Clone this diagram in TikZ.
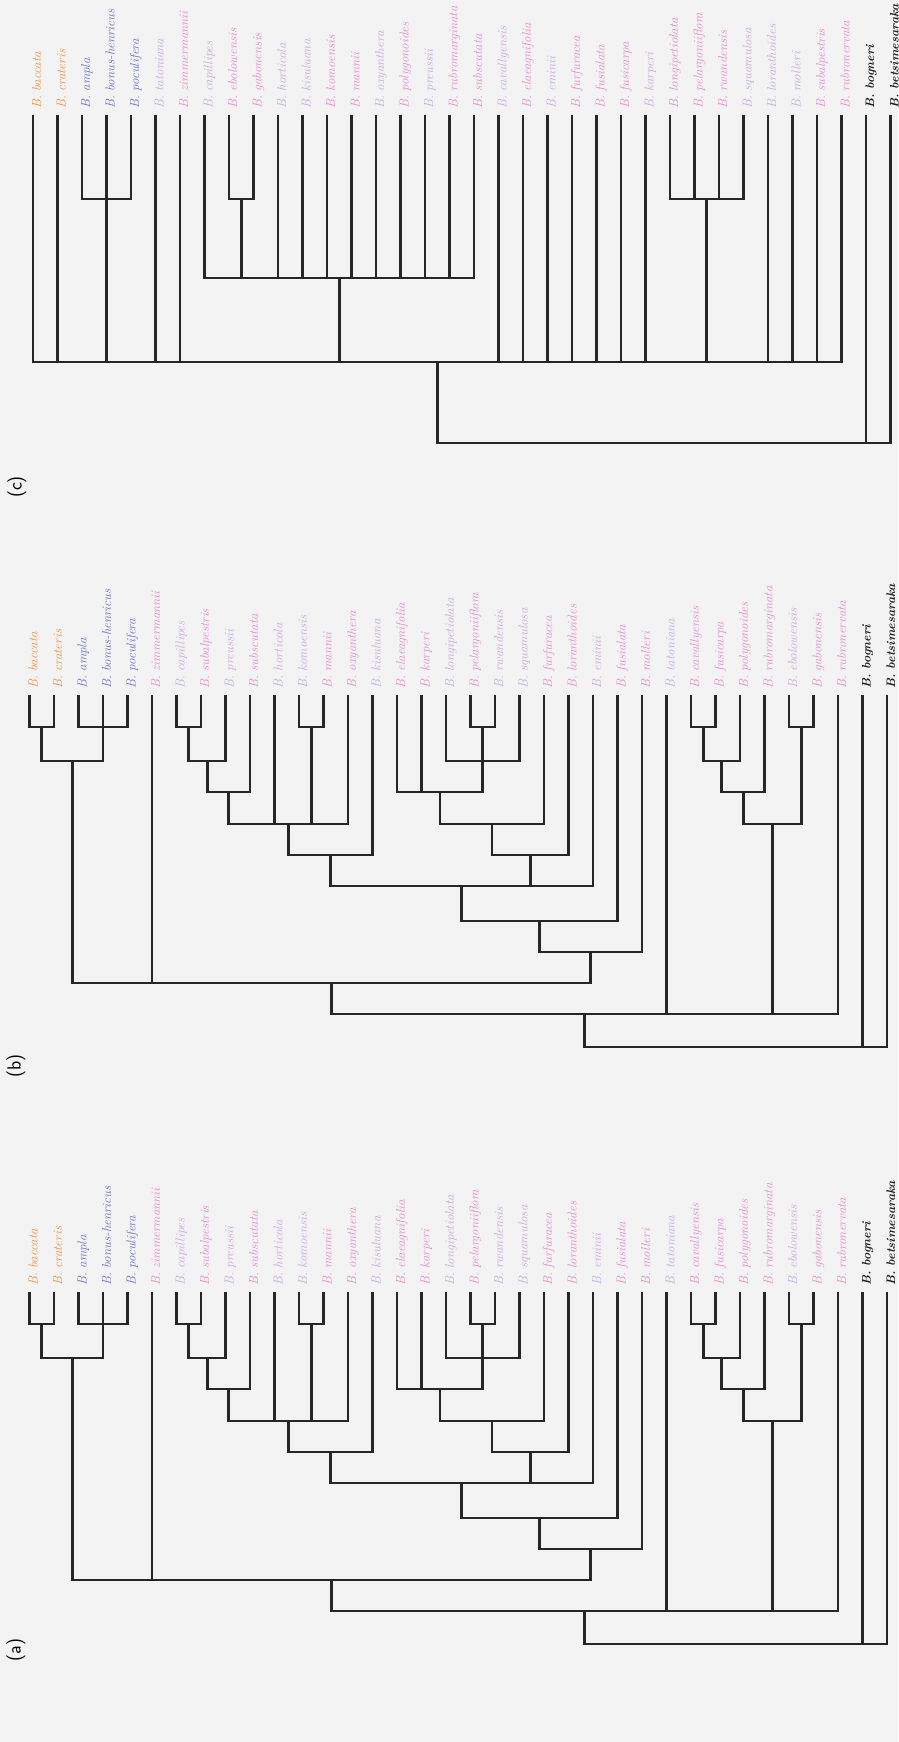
\documentclass[tikz,border=0pt]{standalone}
\usepackage{tikz}

\definecolor{orng}{RGB}{232,146,66}
\definecolor{blu}{RGB}{108,114,196}
\definecolor{pnk}{RGB}{228,138,204}
\definecolor{lil}{RGB}{196,170,222}
\definecolor{blk}{RGB}{30,30,30}
\definecolor{scan}{RGB}{243,243,243}

\tikzset{
  branch/.style={line width=2.8pt, draw=black!85},
  taxon/.style={rotate=90, anchor=base west, inner sep=0pt, font=\fontsize{13}{15}\selectfont\itshape},
  tx orng/.style={text=orng},
  tx blu/.style={text=blu},
  tx pnk/.style={text=pnk},
  tx lil/.style={text=lil},
  tx blk/.style={text=blk, font=\fontsize{12.3}{14}\selectfont\bfseries\itshape},
  panel/.style={rotate=90, inner sep=0pt, font=\fontsize{19}{22}\selectfont\sffamily}
}

\begin{document}
\begin{tikzpicture}[x=1pt, y=-1pt]
\fill[scan] (0,0) rectangle (898,1742);
\useasboundingbox (0,0) rectangle (898,1742);

% (c) -- top tree
\node[panel] (pc) at (17,487) {(c)};
\foreach \n/\c [count=\i from 0] in {baccata/orng, crateris/orng, ampla/blu, bonus-henricus/blu, poculifera/blu,
    tatoniana/lil, zimmermannii/pnk, capillipes/lil, ebolowensis/pnk, gabonensis/pnk, horticola/lil, kisuluana/lil,
    komoensis/pnk, mannii/pnk, oxyanthera/lil, polygonoides/pnk, preussii/lil, rubromarginata/pnk, subscutata/pnk,
    cavallyensis/lil, elaeagnifolia/pnk, eminii/lil, furfuracea/pnk, fusialata/pnk, fusicarpa/pnk, karperi/lil,
    longipetiolata/pnk, pelargoniiflora/pnk, rwandensis/pnk, squamulosa/lil, loranthoides/lil, molleri/lil,
    subalpestris/pnk, rubronervata/pnk, bogneri/blk, betsimesaraka/blk} {
  \coordinate (t\i) at ({33+24.5*\i},115);
  \node[taxon, tx \c] (l\i) at ({41+24.5*\i},109) {B. \n};
}
\coordinate (m1) at (106.5,199);
\coordinate (m2) at (241.25,199);
\coordinate (m3) at (339.25,278);
\coordinate (m4) at (706.75,199);
\coordinate (m5) at (437.25,362);
\coordinate (m6) at (663.9,443);
\foreach \up/\kids in {m1/{t2,t3,t4}, m2/{t8,t9}, m4/{t26,t27,t28,t29},
    m3/{t7,m2,t10,t11,t12,t13,t14,t15,t16,t17,t18},
    m5/{t0,t1,m1,t5,t6,m3,t19,t20,t21,t22,t23,t24,t25,m4,t30,t31,t32,t33},
    m6/{m5,t34,t35}}
  \foreach \k in \kids \draw[branch] (\k) |- (\up);

% (b) and (a) -- same tree, two bands
\foreach \p/\T/\Y in {b/695/1066, a/1292/1650} {
  \node[panel] (p\p) at (16,\Y) {(\p)};
  \foreach \n/\c [count=\i from 0] in {baccata/orng, crateris/orng, ampla/blu, bonus-henricus/blu, poculifera/blu,
      zimmermannii/pnk, capillipes/lil, subalpestris/pnk, preussii/lil, subscutata/pnk, horticola/lil, komoensis/lil,
      mannii/pnk, oxyanthera/pnk, kisuluana/lil, elaeagnifolia/pnk, karperi/pnk, longipetiolata/lil,
      pelargoniiflora/pnk, rwandensis/lil, squamulosa/lil, furfuracea/pnk, loranthoides/pnk, eminii/lil,
      fusialata/pnk, molleri/pnk, tatoniana/lil, cavallyensis/pnk, fusicarpa/pnk, polygonoides/pnk,
      rubromarginata/pnk, ebolowensis/lil, gabonensis/pnk, rubronervata/pnk, bogneri/blk, betsimesaraka/blk} {
    \coordinate (t\i) at ({29.5+24.5*\i},\T);
    \node[taxon, tx \c] (l\i) at ({37.5+24.5*\i},\T-6) {B. \n};
  }
  \coordinate (n1) at (41.75,\T+32);
  \coordinate (n2) at (103,\T+32);
  \coordinate (n3) at (72.4,\T+66);
  \coordinate (n4) at (188.75,\T+32);
  \coordinate (n5) at (207.1,\T+66);
  \coordinate (n6) at (228.6,\T+97);
  \coordinate (n7) at (311.25,\T+32);
  \coordinate (n8) at (288.3,\T+129);
  \coordinate (n9) at (330.4,\T+160);
  \coordinate (n10) at (482.75,\T+32);
  \coordinate (n11) at (482.75,\T+66);
  \coordinate (n12) at (439.9,\T+97);
  \coordinate (n13) at (491.9,\T+129);
  \coordinate (n14) at (530.2,\T+160);
  \coordinate (n15) at (461.7,\T+191);
  \coordinate (n16) at (539.6,\T+226);
  \coordinate (n17) at (590.8,\T+257);
  \coordinate (n18) at (331.6,\T+288);
  \coordinate (n19) at (703.25,\T+32);
  \coordinate (n20) at (721.6,\T+66);
  \coordinate (n21) at (743.1,\T+97);
  \coordinate (n22) at (801.25,\T+32);
  \coordinate (n23) at (772.2,\T+129);
  \coordinate (n24) at (584.8,\T+319);
  \coordinate (n25) at (735.9,\T+352);
  \foreach \up/\kids in {n1/{t0,t1}, n2/{t2,t3,t4}, n3/{n1,n2}, n4/{t6,t7}, n5/{n4,t8}, n6/{n5,t9},
      n7/{t11,t12}, n8/{n6,t10,n7,t13}, n9/{n8,t14}, n10/{t18,t19}, n11/{t17,n10,t20},
      n12/{t15,t16,n11}, n13/{n12,t21}, n14/{n13,t22}, n15/{n9,n14,t23}, n16/{n15,t24},
      n17/{n16,t25}, n18/{n3,t5,n17}, n19/{t27,t28}, n20/{n19,t29}, n21/{n20,t30},
      n22/{t31,t32}, n23/{n21,n22}, n24/{n18,t26,n23,t33}, n25/{n24,t34,t35}}
    \foreach \k in \kids \draw[branch] (\k) |- (\up);
}
\end{tikzpicture}
\end{document}
